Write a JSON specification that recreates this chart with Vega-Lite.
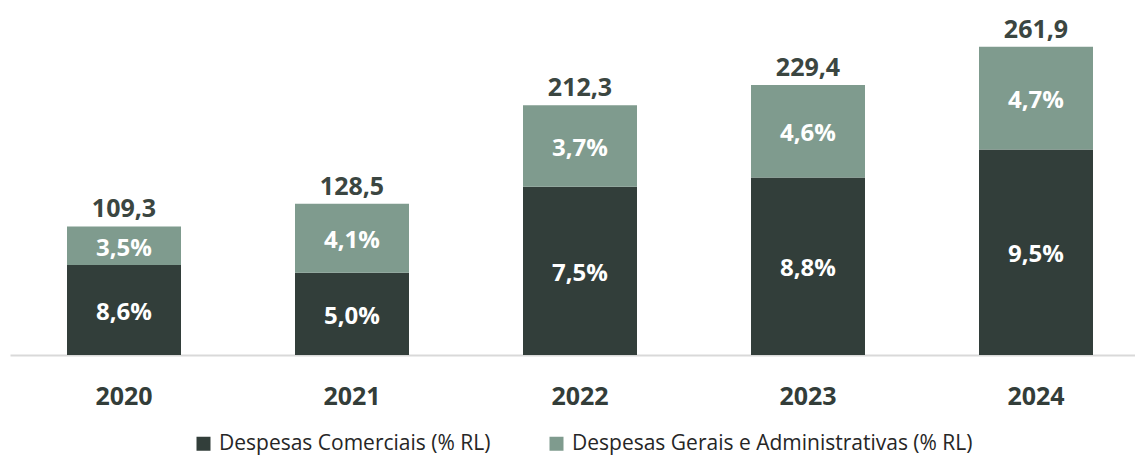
{
  "$schema": "https://vega.github.io/schema/vega-lite/v6.json",
  "autosize": "none",
  "width": 1140,
  "height": 353,
  "padding": {"left": 10, "top": 2, "right": 0, "bottom": 101},
  "background": "white",
  "config": {"view": {"stroke": null}, "font": "Open Sans"},
  "datasets": {
    "seg": [
      {"ano": "2020", "serie": "Despesas Comerciais (% RL)", "ordem": 1, "valor": 76.5, "pct": "8,6%"},
      {"ano": "2020", "serie": "Despesas Gerais e Administrativas (% RL)", "ordem": 2, "valor": 32.8, "pct": "3,5%"},
      {"ano": "2021", "serie": "Despesas Comerciais (% RL)", "ordem": 1, "valor": 69.9, "pct": "5,0%"},
      {"ano": "2021", "serie": "Despesas Gerais e Administrativas (% RL)", "ordem": 2, "valor": 58.6, "pct": "4,1%"},
      {"ano": "2022", "serie": "Despesas Comerciais (% RL)", "ordem": 1, "valor": 143.0, "pct": "7,5%"},
      {"ano": "2022", "serie": "Despesas Gerais e Administrativas (% RL)", "ordem": 2, "valor": 69.3, "pct": "3,7%"},
      {"ano": "2023", "serie": "Despesas Comerciais (% RL)", "ordem": 1, "valor": 150.9, "pct": "8,8%"},
      {"ano": "2023", "serie": "Despesas Gerais e Administrativas (% RL)", "ordem": 2, "valor": 78.5, "pct": "4,6%"},
      {"ano": "2024", "serie": "Despesas Comerciais (% RL)", "ordem": 1, "valor": 174.7, "pct": "9,5%"},
      {"ano": "2024", "serie": "Despesas Gerais e Administrativas (% RL)", "ordem": 2, "valor": 87.2, "pct": "4,7%"}
    ],
    "tot": [
      {"ano": "2020", "total": 109.3, "rotulo": "109,3"},
      {"ano": "2021", "total": 128.5, "rotulo": "128,5"},
      {"ano": "2022", "total": 212.3, "rotulo": "212,3"},
      {"ano": "2023", "total": 229.4, "rotulo": "229,4"},
      {"ano": "2024", "total": 261.9, "rotulo": "261,9"}
    ]
  },
  "encoding": {
    "x": {
      "field": "ano",
      "type": "ordinal",
      "scale": {"paddingInner": 0.5, "paddingOuter": 0.25},
      "axis": {
        "title": null,
        "ticks": false,
        "domainColor": "#d9d9d9",
        "domainWidth": 2,
        "labelAngle": 0,
        "labelFont": "Open Sans",
        "labelFontSize": 25,
        "labelFontWeight": "bold",
        "labelColor": "#333d39",
        "labelPadding": 29
      }
    }
  },
  "layer": [
    {
      "data": {"name": "seg"},
      "mark": {"type": "bar"},
      "encoding": {
        "y": {"field": "valor", "type": "quantitative", "stack": "zero", "scale": {"domain": [0, 300]}, "axis": null},
        "color": {
          "field": "serie",
          "type": "nominal",
          "scale": {
            "domain": ["Despesas Comerciais (% RL)", "Despesas Gerais e Administrativas (% RL)"],
            "range": ["#323e3a", "#7f9b8e"]
          },
          "legend": {
            "title": null,
            "orient": "none",
            "direction": "horizontal",
            "legendX": 183,
            "legendY": 431,
            "symbolType": "square",
            "symbolSize": 196,
            "symbolStrokeWidth": 0,
            "labelFont": "Open Sans",
            "labelFontSize": 21,
            "labelColor": "#262626",
            "labelLimit": 600,
            "labelOffset": 5,
            "columnPadding": 55
          }
        },
        "order": {"field": "ordem", "type": "quantitative"}
      }
    },
    {
      "data": {"name": "seg"},
      "transform": [
        {"stack": "valor", "groupby": ["ano"], "sort": [{"field": "ordem"}], "as": ["v0", "v1"]},
        {"calculate": "(datum.v0 + datum.v1) / 2", "as": "meio"}
      ],
      "mark": {"type": "text", "font": "Open Sans", "fontSize": 24, "fontWeight": "bold", "color": "white", "baseline": "middle", "dy": 3},
      "encoding": {
        "y": {"field": "meio", "type": "quantitative"},
        "text": {"field": "pct"}
      }
    },
    {
      "data": {"name": "tot"},
      "mark": {"type": "text", "font": "Open Sans", "fontSize": 25, "fontWeight": "bold", "color": "#3b4641", "baseline": "alphabetic", "dy": -9},
      "encoding": {
        "y": {"field": "total", "type": "quantitative"},
        "text": {"field": "rotulo"}
      }
    }
  ]
}
